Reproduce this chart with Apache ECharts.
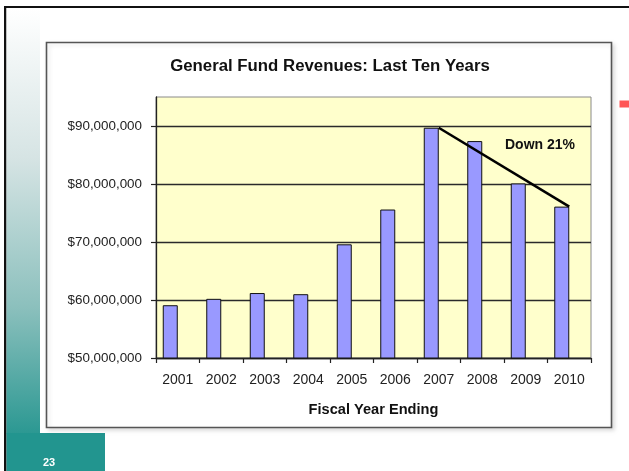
<!DOCTYPE html>
<html>
<head>
<meta charset="utf-8">
<title>General Fund Revenues</title>
<script src="https://cdn.jsdelivr.net/npm/echarts@6/dist/echarts.min.js"></script>
<style>
  html, body { margin: 0; padding: 0; background: #ffffff; }
  #chart { width: 629px; height: 471px; }
</style>
</head>
<body>
<div id="chart"></div>
<script>
// Fiscal years and general fund revenues (dollars)
const years = ['2001', '2002', '2003', '2004', '2005', '2006', '2007', '2008', '2009', '2010'];
const revenues = [59100000, 60200000, 61200000, 61000000, 69600000, 75600000, 89700000, 87400000, 80100000, 76100000];
const yTicks = [50000000, 60000000, 70000000, 80000000, 90000000];
const trendFrom = '2007';
const trendTo = '2010';
const trendNote = 'Down 21%';

// trend line runs between the peak year and the latest year
const trendData = years.map(y => (y === trendFrom || y === trendTo) ? revenues[years.indexOf(y)] : null);

const money = v => '$' + v.toLocaleString('en-US');
const FONT = '"Liberation Sans", Arial, sans-serif';

const chart = echarts.init(document.getElementById('chart'), null, { renderer: 'canvas' });

chart.setOption({
  backgroundColor: '#ffffff',
  animation: false,
  textStyle: { fontFamily: FONT },
  graphic: [
    // slide frame lines
    { type: 'rect', z: -10, shape: { x: 4, y: 6, width: 625, height: 2 }, style: { fill: '#111' } },
    { type: 'rect', z: -10, shape: { x: 4, y: 6, width: 2.5, height: 465 }, style: { fill: '#111' } },
    // left accent strip fading into teal
    { type: 'rect', z: -10, shape: { x: 6.5, y: 8, width: 33.5, height: 426 },
      style: { fill: { type: 'linear', x: 0, y: 0, x2: 0, y2: 1,
        colorStops: [
          { offset: 0, color: '#ffffff' },
          { offset: 0.35, color: '#d6e4e4' },
          { offset: 0.7, color: '#8cc0bd' },
          { offset: 1, color: '#2b9892' }
        ] } } },
    // slide number box
    { type: 'rect', z: -10, shape: { x: 6.5, y: 433, width: 98.5, height: 38 }, style: { fill: '#22958f' } },
    { type: 'text', z: 10, x: 49, y: 463,
      style: { text: '23', fill: '#ffffff', font: 'bold 11px ' + FONT, align: 'center', verticalAlign: 'middle' } },
    // small red marker at right edge
    { type: 'rect', z: -10, shape: { x: 619.5, y: 100.5, width: 9.5, height: 7 }, style: { fill: '#ff5555' } },
    // chart frame
    { type: 'rect', z: -5, shape: { x: 46.5, y: 42.5, width: 565, height: 385 },
      style: { fill: '#ffffff', stroke: '#555555', lineWidth: 1.6,
        shadowBlur: 4, shadowColor: 'rgba(0,0,0,0.12)', shadowOffsetX: 2, shadowOffsetY: 2 } },
    // chart title
    { type: 'text', z: 10, x: 330, y: 66,
      style: { text: 'General Fund Revenues: Last Ten Years', fill: '#111', font: 'bold 16.8px ' + FONT,
        align: 'center', verticalAlign: 'middle' } },
    // trend annotation
    { type: 'text', z: 10, x: 540, y: 145,
      style: { text: trendNote, fill: '#111', font: 'bold 14px ' + FONT, align: 'center', verticalAlign: 'middle' } }
  ],
  grid: {
    left: 156, top: 97, right: 38, bottom: 113,
    show: true, backgroundColor: '#ffffcc', borderColor: '#8a8a8a', borderWidth: 1
  },
  xAxis: {
    type: 'category',
    data: years,
    boundaryGap: true,
    axisLine: { lineStyle: { color: '#222', width: 1.3 } },
    axisTick: { show: true, length: 5, lineStyle: { color: '#222', width: 1.2 } },
    axisLabel: { color: '#222', fontSize: 14, margin: 15, fontFamily: FONT },
    name: 'Fiscal Year Ending',
    nameLocation: 'middle',
    nameGap: 44,
    nameTextStyle: { color: '#111', fontSize: 14.6, fontWeight: 'bold', fontFamily: FONT }
  },
  yAxis: {
    type: 'value',
    min: 50000000,
    max: 95000000,
    interval: 10000000,
    axisLine: { show: true, lineStyle: { color: '#222', width: 1.3 } },
    axisTick: { show: true, length: 5, customValues: yTicks, lineStyle: { color: '#222', width: 1.2 } },
    axisLabel: { color: '#222', fontSize: 13.4, margin: 14, fontFamily: FONT,
      customValues: yTicks, formatter: money },
    splitLine: { show: true, lineStyle: { color: '#2a2a2a', width: 1.4 } }
  },
  series: [
    {
      name: 'Revenues',
      type: 'bar',
      data: revenues,
      barWidth: 15,
      barGap: '0%',
      itemStyle: { color: '#9999ff', borderColor: '#111', borderWidth: 1 },
      z: 2
    },
    {
      // second cluster slot, left empty
      name: 'Reserved',
      type: 'bar',
      data: years.map(() => '-'),
      barWidth: 15,
      barGap: '0%'
    },
    {
      name: 'Trend',
      type: 'line',
      data: trendData,
      connectNulls: true,
      symbol: 'none',
      lineStyle: { color: '#000', width: 2.6 },
      z: 5
    }
  ]
});
</script>
</body>
</html>
